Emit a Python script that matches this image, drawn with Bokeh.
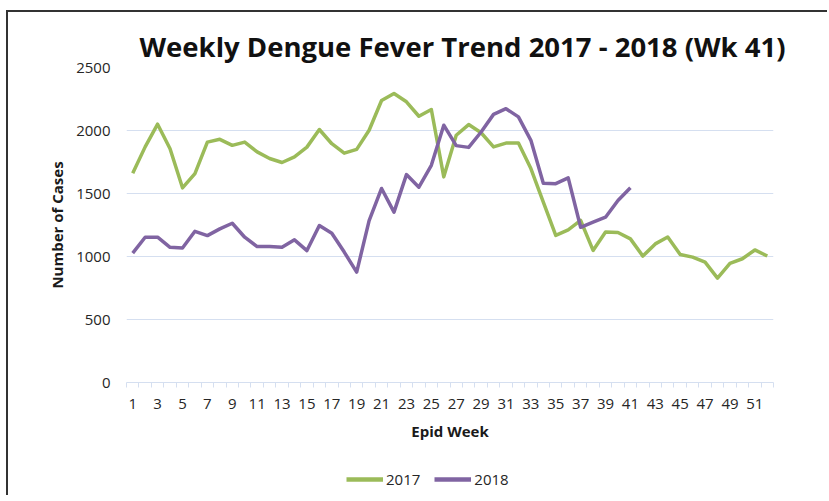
from bokeh.plotting import figure
from bokeh.layouts import column
from bokeh.models import FixedTicker, Range1d, Legend, LegendItem
from bokeh.embed import file_html
from bokeh.resources import INLINE

weeks_2017 = list(range(1, 53))
cases_2017 = [1660, 1870, 2050, 1855, 1545, 1658, 1908, 1930, 1882, 1908,
              1830, 1778, 1746, 1790, 1868, 2008, 1895, 1820, 1850, 2002,
              2238, 2294, 2228, 2113, 2167, 1632, 1962, 2047, 1982, 1870,
              1900, 1900, 1698, 1432, 1168, 1212, 1286, 1048, 1195, 1190,
              1140, 1003, 1100, 1155, 1016, 995, 955, 828, 946, 982,
              1052, 1004]
weeks_2018 = list(range(1, 42))
cases_2018 = [1027, 1153, 1153, 1073, 1068, 1200, 1166, 1219, 1264, 1153,
              1079, 1079, 1073, 1132, 1047, 1246, 1184, 1035, 876, 1285,
              1540, 1352, 1650, 1550, 1724, 2042, 1880, 1866, 1988, 2128,
              2173, 2108, 1922, 1582, 1578, 1624, 1232, 1272, 1312, 1444,
              1545]
x_tick_weeks = list(range(1, 53, 2))
y_ticks = [0, 500, 1000, 1500, 2000, 2500]
series_names = ["2017", "2018"]

GREEN = "#9BBB59"
PURPLE = "#8064A2"
GRID = "#D5DFF0"
FONT = "Open Sans"
LW = 3.5

p = figure(width=821, height=455, output_backend="svg", toolbar_location=None,
           x_range=Range1d(0.5, 52.5), y_range=Range1d(0, 2500),
           min_border_left=118, min_border_right=56, min_border_top=55,
           min_border_bottom=85)
p.styles = {"margin-top": "10px", "margin-left": "6px",
            "border-top": "2px solid #333333",
            "border-left": "2px solid #333333"}
p.outline_line_color = None
p.background_fill_color = "white"
p.border_fill_color = "white"

p.title.text = "Weekly Dengue Fever Trend 2017 - 2018 (Wk 41)"
p.title.text_font = FONT
p.title.text_font_size = "27.5px"
p.title.text_font_style = "bold"
p.title.text_color = "#111111"
p.title.align = "left"
p.title.offset = 13
p.title.standoff = 6

p.line(weeks_2017, cases_2017, line_color=GREEN, line_width=LW, line_join="round")
p.line(weeks_2018, cases_2018, line_color=PURPLE, line_width=LW, line_join="round")

# x axis
xa = p.xaxis[0]
xa.ticker = FixedTicker(ticks=x_tick_weeks,
                        minor_ticks=[w - 0.5 for w in weeks_2017] + [52.5])
xa.axis_line_color = GRID
xa.axis_line_width = 1
xa.major_tick_out = 0
xa.major_tick_in = 0
xa.minor_tick_out = 5
xa.minor_tick_in = 0
xa.minor_tick_line_color = GRID
xa.major_label_text_font = FONT
xa.major_label_text_font_size = "15px"
xa.major_label_text_color = "#262626"
xa.major_label_standoff = 11
xa.axis_label = "Epid Week"
xa.axis_label_text_font = FONT
xa.axis_label_text_font_size = "15px"
xa.axis_label_text_font_style = "bold"
xa.axis_label_text_color = "#1a1a1a"
xa.axis_label_standoff = 9

# y axis
ya = p.yaxis[0]
ya.ticker = FixedTicker(ticks=y_ticks)
ya.axis_line_color = None
ya.major_tick_out = 0
ya.major_tick_in = 0
ya.minor_tick_out = 0
ya.minor_tick_in = 0
ya.major_label_text_font = FONT
ya.major_label_text_font_size = "15px"
ya.major_label_text_color = "#262626"
ya.major_label_standoff = 16
ya.axis_label = "Number of Cases"
ya.axis_label_text_font = FONT
ya.axis_label_text_font_size = "15px"
ya.axis_label_text_font_style = "bold"
ya.axis_label_text_color = "#1a1a1a"
ya.axis_label_standoff = 6

p.xgrid.grid_line_color = None
p.ygrid.ticker = FixedTicker(ticks=y_ticks)
p.ygrid.grid_line_color = GRID
p.ygrid.grid_line_width = 1

# legend strip below the chart (its frame aligns with the main frame)
p2 = figure(width=821, height=30, output_backend="svg", toolbar_location=None,
            x_range=Range1d(0, 1), y_range=Range1d(0, 1),
            x_axis_location=None, y_axis_location=None,
            min_border=0, min_border_left=0, min_border_right=0,
            min_border_top=0, min_border_bottom=0)
p2.styles = {"margin-left": "6px", "border-left": "2px solid #333333"}
p2.outline_line_color = None
p2.grid.visible = False
p2.title.visible = False
l1 = p2.line(weeks_2017, cases_2017, line_color=GREEN, line_width=LW + 1)
l2 = p2.line(weeks_2018, cases_2018, line_color=PURPLE, line_width=LW + 1)
legend = Legend(items=[LegendItem(label=series_names[0], renderers=[l1]),
                       LegendItem(label=series_names[1], renderers=[l2])],
                orientation="horizontal", location=(220, 6),
                padding=0, margin=0, spacing=14, label_standoff=3,
                glyph_width=37, glyph_height=18,
                label_text_font=FONT, label_text_font_size="15px",
                label_text_color="#262626",
                border_line_color=None, background_fill_alpha=0)
p2.add_layout(legend, "center")

layout = column(p, p2, spacing=0)
open("out.html", "w").write(file_html(layout, INLINE))
